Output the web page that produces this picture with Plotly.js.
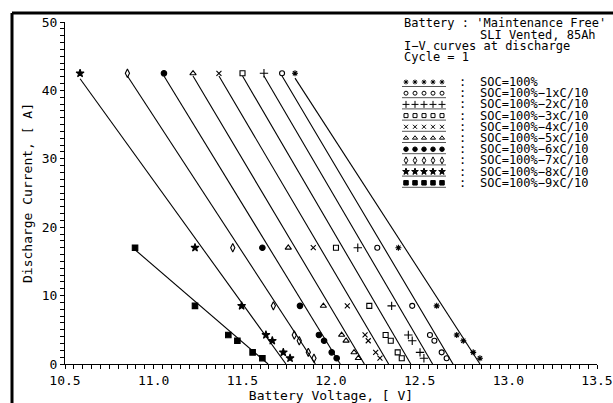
<!DOCTYPE html>
<html>
<head>
<meta charset="utf-8">
<script src="https://cdn.plot.ly/plotly-3.0.1.min.js"></script>
<style>html,body{margin:0;padding:0;background:#fff;}#chart{width:613px;height:403px;}</style>
</head>
<body>
<div id="chart"></div>
<script>
// ---- data ----
const currents  = [42.5, 17, 8.5, 4.25, 3.4, 1.7, 0.85];
const currents9 = [17, 8.5, 4.25, 3.4, 1.7, 0.85];

const v0 = [11.797, 12.380, 12.596, 12.709, 12.746, 12.802, 12.840];
const v1 = [11.724, 12.261, 12.458, 12.558, 12.583, 12.624, 12.652];
const v2 = [11.622, 12.151, 12.342, 12.436, 12.458, 12.502, 12.524];
const v3 = [11.501, 12.028, 12.216, 12.308, 12.337, 12.376, 12.399];
const v4 = [11.368, 11.900, 12.092, 12.192, 12.210, 12.252, 12.276];
const v5 = [11.222, 11.759, 11.957, 12.060, 12.085, 12.130, 12.154];
const v6 = [11.058, 11.613, 11.825, 11.932, 11.961, 12.004, 12.032];
const v7 = [10.852, 11.446, 11.675, 11.793, 11.821, 11.872, 11.904];
const v8 = [10.585, 11.233, 11.496, 11.633, 11.669, 11.731, 11.769];
const v9 = [10.895, 11.233, 11.421, 11.472, 11.558, 11.613];

// fitted lines: open-circuit voltage E0 [V], internal resistance R [V/A], start current [A]
const lineE0   = [12.840, 12.688, 12.573, 12.450, 12.325, 12.188, 12.052, 11.912, 11.746, 11.645];
const lineR    = [0.02495, 0.02290, 0.02259, 0.02254, 0.02273, 0.02295, 0.02361, 0.02518, 0.02784, 0.04491];
const lineItop = [41.8, 42.1, 42.1, 42.1, 42.1, 42.1, 42.1, 42.1, 41.7, 16.7];

const seriesLabels = ['SOC=100%', 'SOC=100%−1xC/10', 'SOC=100%−2xC/10', 'SOC=100%−3xC/10',
  'SOC=100%−4xC/10', 'SOC=100%−5xC/10', 'SOC=100%−6xC/10', 'SOC=100%−7xC/10',
  'SOC=100%−8xC/10', 'SOC=100%−9xC/10'];
const titleLines = ["Battery : 'Maintenance Free'", 'SLI Vented, 85Ah', 'I−V curves at discharge', 'Cycle = 1'];

// ---- styles ----
const volts = [v0, v1, v2, v3, v4, v5, v6, v7, v8, v9];
const amps  = [currents, currents, currents, currents, currents, currents, currents, currents, currents, currents9];
const symbols = ['asterisk-open', 'circle-open', 'cross-thin-open', 'square-open', 'x-thin-open',
  'triangle-up-open', 'circle', 'diamond-tall-open', 'star', 'square'];
const sizes = [5, 5, 6, 5, 5, 5.5, 5.5, 6, 6, 5.5];

const traces = [];
for (let i = 0; i < 10; i++) {
  const xs = lineE0[i] - lineR[i] * lineItop[i];
  traces.push({x: [xs, lineE0[i]], y: [lineItop[i], 0], mode: 'lines', type: 'scatter',
    line: {color: '#000', width: 1.1}, hoverinfo: 'skip', showlegend: false});
  traces.push({x: volts[i], y: amps[i], mode: 'markers', type: 'scatter', showlegend: false,
    marker: {symbol: symbols[i], size: sizes[i], color: '#000', line: {color: '#000', width: 1.1}}});
}

// custom legend in a pixel-like overlay axis (x2: 65..597 px, y2: 364..22 px)
const font = {family: 'DejaVu Sans Mono', size: 12, color: '#000'};
const annotations = [];
const shapes = [];
const rowY0 = 82, rowDY = 11.2;
for (let k = 0; k < 10; k++) {
  const yy = rowY0 + k * rowDY;
  const lx = [], ly = [];
  for (let j = 0; j < 5; j++) { lx.push(406 + j * 9); ly.push(yy); }
  traces.push({x: lx, y: ly, xaxis: 'x2', yaxis: 'y2', mode: 'markers', type: 'scatter', showlegend: false,
    hoverinfo: 'skip', marker: {symbol: symbols[k], size: sizes[k] - 1, color: '#000', line: {color: '#000', width: 1}}});
  shapes.push({type: 'line', xref: 'x2', yref: 'y2', x0: 402, x1: 446, y0: yy + 4.5, y1: yy + 4.5,
    line: {color: '#555', width: 1}});
  annotations.push({xref: 'x2', yref: 'y2', x: 462, y: yy, text: ':', showarrow: false, xanchor: 'center', yanchor: 'middle', font: font, borderpad: 0});
  annotations.push({xref: 'x2', yref: 'y2', x: 479, y: yy, text: seriesLabels[k], showarrow: false, xanchor: 'left', yanchor: 'middle', font: font, borderpad: 0});
}
const titleX = [403, 479, 403, 403];
const titleY = [23.3, 34.5, 45.7, 56.9];
for (let k = 0; k < titleLines.length; k++) {
  annotations.push({xref: 'x2', yref: 'y2', x: titleX[k], y: titleY[k], text: titleLines[k], showarrow: false,
    xanchor: 'left', yanchor: 'middle', font: font, borderpad: 0});
}

// outer frame (top and left)
shapes.push({type: 'line', xref: 'paper', yref: 'paper', x0: (12 - 65) / 532, x1: (613 - 65) / 532,
  y0: (364 - 13) / 342, y1: (364 - 13) / 342, line: {color: '#000', width: 3}});
shapes.push({type: 'line', xref: 'paper', yref: 'paper', x0: (12 - 65) / 532, x1: (12 - 65) / 532,
  y0: (364 - 13) / 342, y1: (364 - 403) / 342, line: {color: '#000', width: 3}});

const axFont = {family: 'DejaVu Sans Mono', size: 13, color: '#000'};
const layout = {
  width: 613, height: 403,
  margin: {l: 65, r: 16, t: 22, b: 39},
  paper_bgcolor: '#fff', plot_bgcolor: '#fff',
  showlegend: false,
  xaxis: {range: [10.5, 13.5], dtick: 0.5, tick0: 10.5, tickformat: '.1f', showgrid: false, zeroline: false,
    showline: true, linecolor: '#000', linewidth: 1, ticks: 'outside', ticklen: 4, tickcolor: '#000', tickwidth: 1,
    minor: {dtick: 0.05, ticks: 'outside', ticklen: 4, tickcolor: '#000', tickwidth: 1, showgrid: false},
    tickfont: axFont, title: {text: 'Battery Voltage, [ V]', font: axFont, standoff: 0}, fixedrange: true},
  yaxis: {range: [0, 50], dtick: 10, showgrid: false, zeroline: false,
    showline: true, linecolor: '#000', linewidth: 1, ticks: 'outside', ticklen: 4, tickcolor: '#000', tickwidth: 1,
    minor: {dtick: 1, ticks: 'outside', ticklen: 4, tickcolor: '#000', tickwidth: 1, showgrid: false},
    tickfont: axFont, title: {text: 'Discharge Current, [ A]', font: axFont, standoff: 6}, fixedrange: true},
  xaxis2: {range: [65, 597], overlaying: 'x', visible: false, fixedrange: true},
  yaxis2: {range: [364, 22], overlaying: 'y', visible: false, fixedrange: true},
  annotations: annotations,
  shapes: shapes
};
Plotly.newPlot('chart', traces, layout, {staticPlot: true, displayModeBar: false});
</script>
</body>
</html>
